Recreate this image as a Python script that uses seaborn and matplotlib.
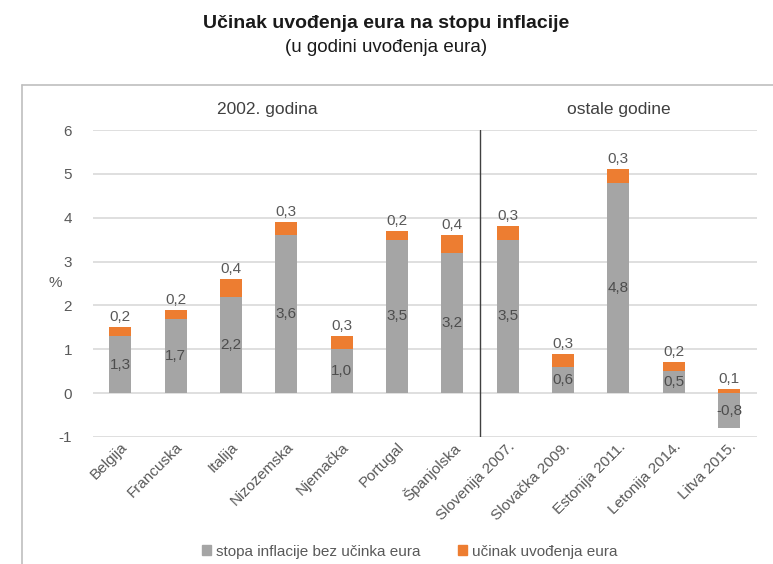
import matplotlib
matplotlib.use("Agg")
import matplotlib.pyplot as plt
import seaborn as sns
import pandas as pd
from matplotlib.lines import Line2D

countries = ["Belgija", "Francuska", "Italija", "Nizozemska", "Njemačka", "Portugal",
             "Španjolska", "Slovenija 2007.", "Slovačka 2009.", "Estonija 2011.",
             "Letonija 2014.", "Litva 2015."]
base_inflation = [1.3, 1.7, 2.2, 3.6, 1.0, 3.5, 3.2, 3.5, 0.6, 4.8, 0.5, -0.8]
euro_effect = [0.2, 0.2, 0.4, 0.3, 0.3, 0.2, 0.4, 0.3, 0.3, 0.3, 0.2, 0.1]
yticks = [-1, 0, 1, 2, 3, 4, 5, 6]

GRAY = "#A5A5A5"
ORANGE = "#ED7D31"
TXT = "#595959"

df = pd.DataFrame({"zemlja": countries, "baza": base_inflation, "ucinak": euro_effect})
# orange part sits on top of the positive part of the gray bar
df["dno"] = df["baza"].clip(lower=0)

sns.set_style("white")
plt.rcParams["font.family"] = ["Liberation Sans", "DejaVu Sans"]

fig = plt.figure(figsize=(7.73, 5.64), dpi=100)
ax = fig.add_axes([0.120, 0.2252, 0.859, 0.5443])

x = list(range(len(countries)))
w = 0.4
ax.bar(x, df["baza"], width=w, color=GRAY, linewidth=0, zorder=2)
ax.bar(x, df["ucinak"], width=w, bottom=df["dno"], color=ORANGE, linewidth=0, zorder=2)

for i, row in df.iterrows():
    ax.text(i, row["baza"] / 2, f"{row['baza']:.1f}".replace(".", ","),
            ha="center", va="center", fontsize=11, color="#4d4d4d", zorder=3)
    top = row["dno"] + row["ucinak"]
    ax.text(i, top + 0.07, f"{row['ucinak']:.1f}".replace(".", ","),
            ha="center", va="bottom", fontsize=11, color=TXT, zorder=3)

ax.set_xlim(-0.5, len(countries) - 0.5)
ax.set_ylim(-1, 6)
ax.set_yticks(yticks)
ax.set_yticklabels([str(t) for t in yticks])
ax.yaxis.grid(True, color="#D9D9D9", linewidth=1.2, zorder=0)
ax.set_axisbelow(True)
for s in ax.spines.values():
    s.set_visible(False)
ax.tick_params(axis="y", length=0, pad=15, labelsize=11, labelcolor=TXT)
ax.tick_params(axis="x", length=0, pad=2, labelsize=11, labelcolor=TXT)
ax.set_xticks(x)
ax.set_xticklabels(countries, rotation=45, ha="right", rotation_mode="anchor")
ax.set_ylabel("%", rotation=0, fontsize=11, color=TXT, labelpad=2, va="center")

# divider between groups
ax.axvline(6.5, color="#404040", linewidth=1, zorder=1)
ax.text(2.65, 6.3, "2002. godina", ha="center", va="bottom", fontsize=12.5, color="#404040")
ax.text(9.0, 6.3, "ostale godine", ha="center", va="bottom", fontsize=12.5, color="#404040")

fig.text(0.5, 1 - 23 / 564, "Učinak uvođenja eura na stopu inflacije", ha="center",
         va="center", fontsize=14, fontweight="bold", color="#1a1a1a")
fig.text(0.5, 1 - 48 / 564, "(u godini uvođenja eura)", ha="center", va="center",
         fontsize=13.5, color="#1a1a1a")

# outer chart frame (left + top)
fig.add_artist(Line2D([22 / 773, 22 / 773], [0, 1 - 85 / 564], transform=fig.transFigure,
                      color="#BFBFBF", linewidth=1.2))
fig.add_artist(Line2D([22 / 773, 1], [1 - 85 / 564, 1 - 85 / 564], transform=fig.transFigure,
                      color="#BFBFBF", linewidth=1.2))

handles = [plt.Rectangle((0, 0), 1, 1, color=GRAY), plt.Rectangle((0, 0), 1, 1, color=ORANGE)]
fig.legend(handles, ["stopa inflacije bez učinka eura", "učinak uvođenja eura"],
           loc="center", bbox_to_anchor=(0.53, 0.022), ncol=2, frameon=False,
           fontsize=11, handlelength=0.6, handleheight=0.6, handletextpad=0.3,
           columnspacing=2.5, labelcolor=TXT)

fig.savefig("out.png", dpi=100)
